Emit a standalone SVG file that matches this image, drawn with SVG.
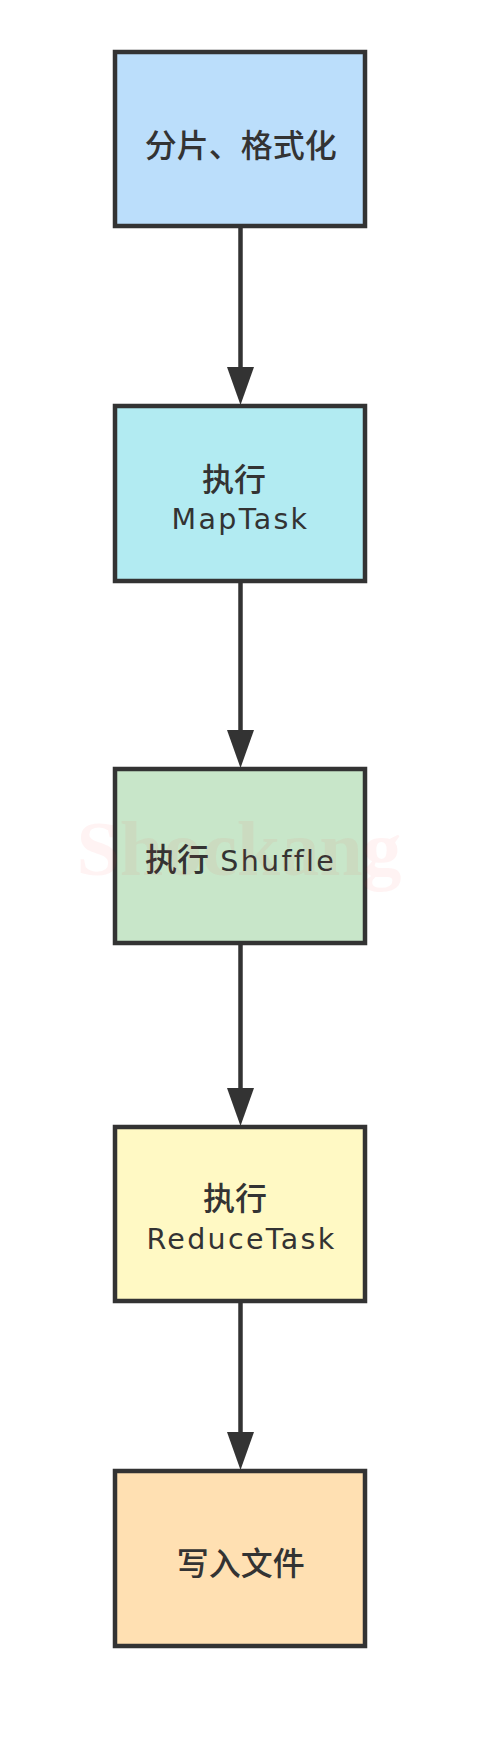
<svg xmlns="http://www.w3.org/2000/svg" width="480" height="1747" viewBox="0 0 480 1747">
<defs>
<style>
.box{stroke:#333333;stroke-width:4.5}
.edge{stroke:#333333;stroke-width:4.5;fill:none}
.cjk{font-family:"Noto Sans CJK SC","DejaVu Sans",sans-serif;font-size:32px;font-weight:500;fill:#333333}
.lat{font-family:"DejaVu Sans","Noto Sans CJK SC",sans-serif;font-size:28.5px;letter-spacing:2.3px;fill:#333333}
.wm{font-family:"Liberation Serif",serif;font-weight:bold;font-size:78px;fill:#ff3030;fill-opacity:0.06}
</style>
<marker id="ah" markerUnits="userSpaceOnUse" markerWidth="39" markerHeight="28" refX="0" refY="13.5" orient="auto">
<path d="M0,0 L38,13.5 L0,27 Z" fill="#333333"/>
</marker>
</defs>
<rect width="480" height="1747" fill="#ffffff"/>
<g id="edges">
<line class="edge" x1="240.5" y1="227" x2="240.5" y2="367" marker-end="url(#ah)"/>
<line class="edge" x1="240.5" y1="581" x2="240.5" y2="730" marker-end="url(#ah)"/>
<line class="edge" x1="240.5" y1="944" x2="240.5" y2="1088" marker-end="url(#ah)"/>
<line class="edge" x1="240.5" y1="1302" x2="240.5" y2="1432" marker-end="url(#ah)"/>
</g>
<g id="n1">
<rect class="box" x="115" y="52" width="250" height="174" fill="#BBDEFB"/>
<text class="cjk" x="240.8" y="157" text-anchor="middle">分片、格式化</text>
</g>
<g id="n2">
<rect class="box" x="115" y="406" width="250" height="175" fill="#B2EBF2"/>
<text class="cjk" x="234" y="490.5" text-anchor="middle">执行</text>
<text class="lat" x="240.5" y="529" text-anchor="middle">MapTask</text>
</g>
<g id="n3">
<rect class="box" x="115" y="769" width="250" height="174" fill="#C8E6C9"/>
<text x="240.5" y="871" text-anchor="middle"><tspan class="cjk">执行</tspan><tspan class="lat"> Shuffle</tspan></text>
</g>
<g id="n4">
<rect class="box" x="115" y="1127" width="250" height="174" fill="#FFF9C4"/>
<text class="cjk" x="235" y="1209.5" text-anchor="middle">执行</text>
<text class="lat" x="241.5" y="1248.5" text-anchor="middle">ReduceTask</text>
</g>
<g id="n5">
<rect class="box" x="115" y="1471" width="250" height="175" fill="#FFE0B2"/>
<text class="cjk" x="240.7" y="1575" text-anchor="middle">写入文件</text>
</g>
<text class="wm" x="239" y="875" text-anchor="middle">Shockang</text>
</svg>
